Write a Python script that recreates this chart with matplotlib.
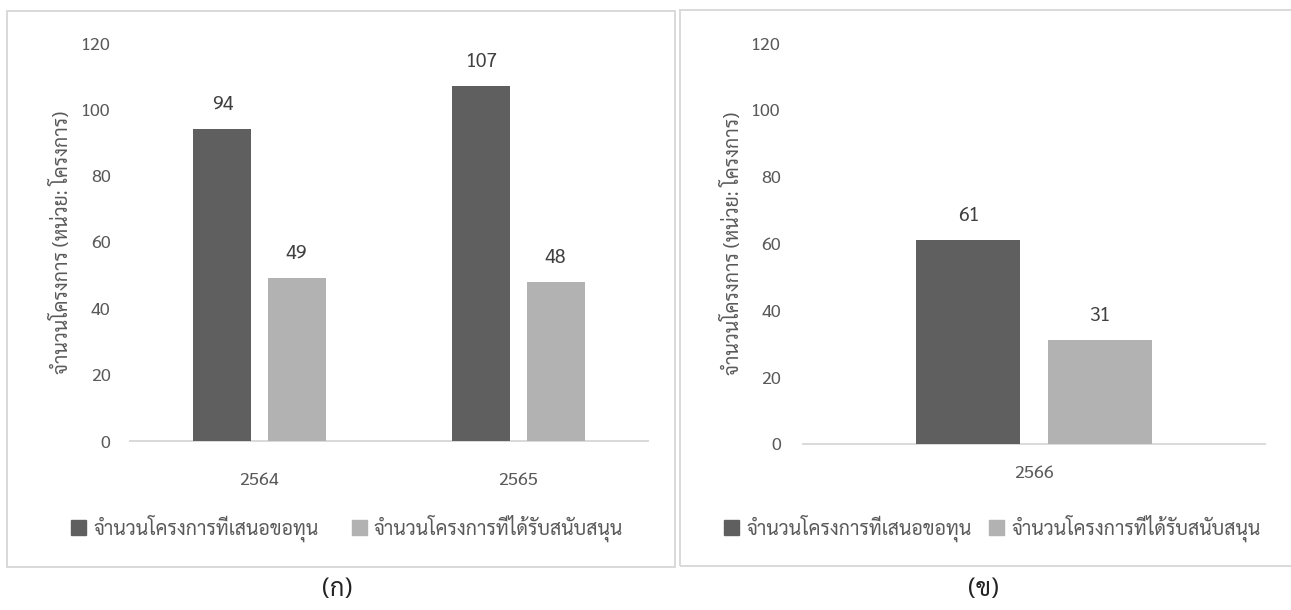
import matplotlib
matplotlib.use("Agg")
import matplotlib.pyplot as plt
from matplotlib.patches import Rectangle, Patch
import numpy as np

plt.rcParams['font.family'] = ['Sarabun', 'DejaVu Sans']

# ---- data ----
years_a = ["2564", "2565"]
proposed_a = [94, 107]
funded_a = [49, 48]

years_b = ["2566"]
proposed_b = [61]
funded_b = [31]

series_names = ["จำนวนโครงการที่เสนอขอทุน", "จำนวนโครงการที่ได้รับสนับสนุน"]
ylabel = "จำนวนโครงการ (หน่วย: โครงการ)"
captions = ["(ก)", "(ข)"]
yticks = [0, 20, 40, 60, 80, 100, 120]

DARK = "#5f5f5f"
LIGHT = "#b2b2b2"
TXT = "#595959"
LINE = "#d9d9d9"

W, H = 1291, 610
fig = plt.figure(figsize=(W / 100, H / 100), dpi=100)


def fx(px):
    return px / W


def fy(py):
    return 1 - py / H


# panel borders
fig.patches.append(Rectangle((fx(6.5), fy(566.5)), fx(668), (566.5 - 10.5) / H,
                             transform=fig.transFigure, fill=False, ec=LINE, lw=1.4))
fig.patches.append(Rectangle((fx(679.5), fy(565.5)), fx(640), (565.5 - 10.0) / H,
                             transform=fig.transFigure, fill=False, ec=LINE, lw=1.4))


def panel(rect, cats, s1, s2, width, off, ylab_x, tick_pad, xtick_pad, legend_cx, colsp):
    ax = fig.add_axes(rect)
    x = np.arange(len(cats))
    b1 = ax.bar(x - off, s1, width, color=DARK, label=series_names[0], zorder=3)
    b2 = ax.bar(x + off, s2, width, color=LIGHT, label=series_names[1], zorder=3)
    for bars in (b1, b2):
        for r in bars:
            ax.annotate(f"{int(r.get_height())}", (r.get_x() + r.get_width() / 2, r.get_height()),
                        xytext=(0, 24), textcoords="offset pixels", ha="center", va="center",
                        fontsize=14, color="#404040")
    ax.set_xlim(-0.5, len(cats) - 0.5)
    ax.set_ylim(0, 120)
    ax.set_yticks(yticks)
    ax.set_xticks(x)
    ax.set_xticklabels(cats)
    for s in ("top", "right", "left"):
        ax.spines[s].set_visible(False)
    ax.spines["bottom"].set_color(LINE)
    ax.spines["bottom"].set_linewidth(1.4)
    ax.tick_params(axis="y", length=0, pad=tick_pad, labelsize=13, labelcolor=TXT)
    ax.tick_params(axis="x", length=0, pad=xtick_pad, labelsize=13, labelcolor=TXT)
    fig.text(fx(ylab_x), rect[1] + rect[3] / 2, ylabel, rotation=90, ha="center", va="center",
             fontsize=14, color=TXT)
    handles = [Patch(color=DARK), Patch(color=LIGHT)]
    fig.legend(handles, series_names, loc="center", bbox_to_anchor=(fx(legend_cx), fy(528)),
               ncol=2, frameon=False, fontsize=14, labelcolor=TXT, handlelength=0.8,
               handleheight=0.8, handletextpad=0.35, columnspacing=colsp)
    return ax


# panel (a)
panel([fx(130), fy(441), fx(518), 398 / H], years_a, proposed_a, funded_a,
      0.224, 0.143, 62, 14, 22, 347, 1.7)
# panel (b)
panel([fx(803), fy(444), fx(462), 401 / H], years_b, proposed_b, funded_b,
      0.225, 0.142, 733, 16, 15, 992, 0.9)

fig.text(fx(337), fy(590), captions[0], ha="center", va="center", fontsize=18, color="#222222")
fig.text(fx(983), fy(590), captions[1], ha="center", va="center", fontsize=18, color="#222222")

fig.savefig("out.png", dpi=100)
